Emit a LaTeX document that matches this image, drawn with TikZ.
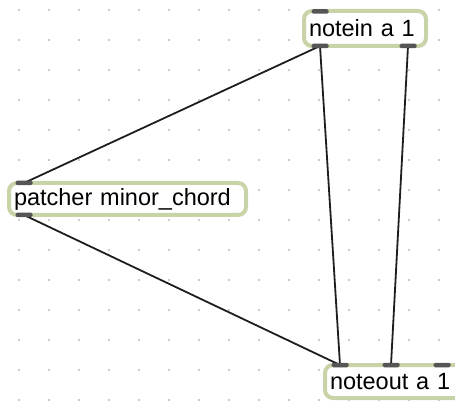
\documentclass[tikz,border=0pt]{standalone}
\usepackage{fontspec}
\setmainfont{Liberation Sans}
\definecolor{boxgreen}{RGB}{200,212,168}
\definecolor{portgray}{RGB}{85,85,85}
\definecolor{dotgray}{RGB}{205,205,205}
\definecolor{cordblack}{RGB}{30,30,30}
\tikzset{
  maxbox/.style={draw=boxgreen, line width=4pt, fill=white, rounded corners=8pt,
    inner xsep=5pt, inner ysep=0pt, align=left, anchor=center,
    font=\fontsize{23.5}{26}\selectfont},
  port/.style={fill=portgray, rounded corners=1.5pt, inner sep=0pt,
    minimum width=17pt, minimum height=4.5pt},
  cord/.style={draw=cordblack, line width=1.8pt},
}
\begin{document}
\begin{tikzpicture}[x=1pt,y=-1pt]
\useasboundingbox (0,0) rectangle (455,403);
\begin{scope}
\clip (0,0) rectangle (455,403);
% background grid of dots
\foreach \gx in {19,49,...,439} {
  \foreach \gy in {10,40,...,400} {
    \fill[dotgray] (\gx-1,\gy-1) rectangle (\gx+1,\gy+1);
  }
}
% boxes
\node[maxbox, minimum width=122pt, minimum height=35pt, text width=112pt] (notein) at (365,28.5) {notein a 1};
\node[maxbox, minimum width=237pt, minimum height=32pt, text width=227pt] (patcher) at (127.5,199) {patcher minor\_chord};
\node[maxbox, minimum width=143pt, minimum height=33pt, text width=133pt] (noteout) at (396.5,381.5) {noteout a 1};
% port anchors
\coordinate (ni-i1) at (320,11.5);
\coordinate (ni-o1) at (320,46);
\coordinate (ni-o2) at (408,46);
\coordinate (pc-i1) at (24,183);
\coordinate (pc-o1) at (24,215);
\coordinate (no-i1) at (340,365);
\coordinate (no-i2) at (391,365);
\coordinate (no-i3) at (442,365);
% cords
\draw[cord] (ni-o1) -- (pc-i1);
\draw[cord] (ni-o1) -- (no-i1);
\draw[cord] (ni-o2) -- (no-i2);
\draw[cord] (pc-o1) -- (no-i1);
% ports
\node[port] (p1) at (ni-i1) {};
\node[port] (p2) at (ni-o1) {};
\node[port] (p3) at (ni-o2) {};
\node[port] (p4) at (pc-i1) {};
\node[port] (p5) at (pc-o1) {};
\node[port] (p6) at (no-i1) {};
\node[port] (p7) at (no-i2) {};
\node[port] (p8) at (no-i3) {};
\end{scope}
\end{tikzpicture}
\end{document}
